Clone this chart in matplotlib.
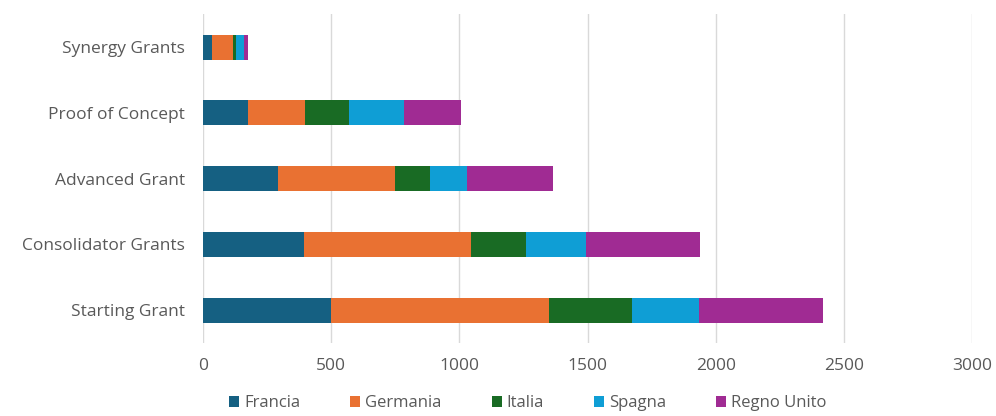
import matplotlib
matplotlib.use("Agg")
import matplotlib.pyplot as plt
import numpy as np

categories = ["Synergy Grants", "Proof of Concept", "Advanced Grant", "Consolidator Grants", "Starting Grant"]
series_names = ["Francia", "Germania", "Italia", "Spagna", "Regno Unito"]
francia = [35, 173, 290, 394, 499]
germania = [80, 225, 459, 651, 850]
italia = [14, 172, 134, 213, 324]
spagna = [30, 215, 146, 237, 262]
regno_unito = [16, 219, 335, 442, 482]
xticks = [0, 500, 1000, 1500, 2000, 2500, 3000]

colors = ["#156082", "#E97132", "#196B24", "#0F9ED5", "#A02B93"]

plt.rcParams['font.family'] = ['Open Sans', 'DejaVu Sans']

fig = plt.figure(figsize=(9.96, 4.16), dpi=100)
ax = fig.add_axes([0.204, 0.175, 0.772, 0.791])

y = np.arange(len(categories))
left = np.zeros(len(categories))
for name, vals, c in zip(series_names, [francia, germania, italia, spagna, regno_unito], colors):
    ax.barh(y, vals, left=left, height=0.38, color=c, label=name, zorder=3)
    left += np.array(vals)

ax.set_ylim(len(categories) - 0.5, -0.5)
ax.set_xlim(0, 3000)
ax.set_yticks(y)
ax.set_yticklabels(categories, fontsize=12.5, color="#595959")
ax.set_xticks(xticks)
ax.set_xticklabels([str(t) for t in xticks], fontsize=12.5, color="#595959")
ax.tick_params(axis='both', length=0)
ax.tick_params(axis='y', pad=13)
ax.tick_params(axis='x', pad=11)
ax.grid(axis='x', color="#d9d9d9", linewidth=1, zorder=0)
for s in ax.spines.values():
    s.set_visible(False)

leg = fig.legend(loc='lower center', bbox_to_anchor=(0.53, -0.025), ncol=5, frameon=False,
                 fontsize=12, handlelength=0.6, handleheight=0.6, handletextpad=0.3,
                 columnspacing=3.0)
for t in leg.get_texts():
    t.set_color("#595959")

fig.savefig("out.png", dpi=100)
